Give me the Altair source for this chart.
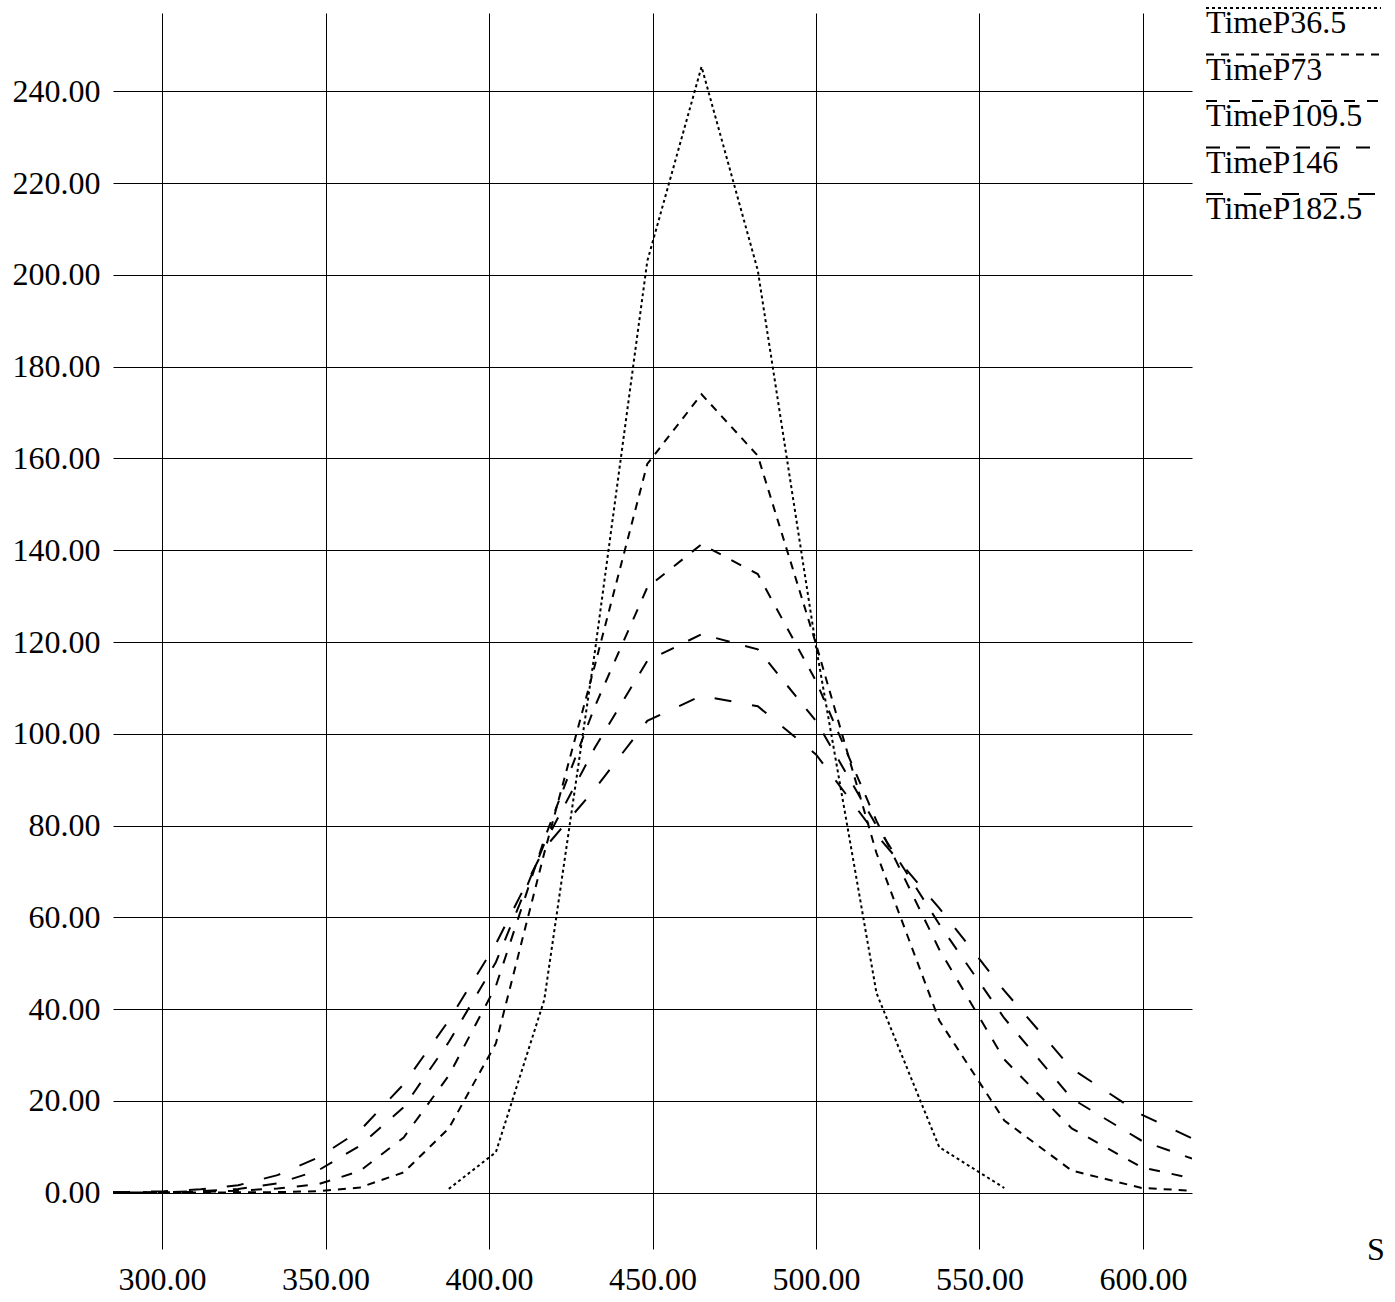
import altair as alt
import pandas as pd

# ---- data ----
series_names = ["TimeP36.5", "TimeP73", "TimeP109.5", "TimeP146", "TimeP182.5"]

s_values = [285.0, 300.6, 311.8, 323.3, 335.3, 347.7, 360.5, 373.9, 387.7, 402.1,
            416.9, 432.4, 448.4, 465.0, 482.2, 500.0, 518.5, 537.7, 557.6, 578.2,
            599.6, 615.0]

time_36_5 = [None, None, None, None, None, None, None, None, 0.8, 8.8,
             42.0, 118.0, 203.0, 245.4, 201.0, 119.0, 43.5, 9.9, 1.0, None,
             None, None]
time_73 = [0.0, 0.0, 0.0, 0.05, 0.1, 0.3, 1.1, 4.4, 14.0, 32.5,
           74.0, 115.0, 158.8, 174.0, 160.6, 119.6, 74.0, 37.5, 15.7, 4.8,
           1.0, 0.4]
time_109_5 = [0.0, 0.05, 0.15, 0.4, 0.9, 1.8, 4.7, 12.0, 25.5, 45.0,
              77.0, 106.0, 131.9, 141.3, 134.8, 111.5, 81.0, 53.0, 29.0, 14.0,
              5.5, 3.1]
time_146 = [0.0, 0.1, 0.3, 0.8, 2.0, 4.8, 10.2, 18.6, 32.8, 50.2,
            76.0, 97.0, 115.9, 121.7, 118.4, 102.8, 80.0, 58.5, 38.0, 20.5,
            11.3, 7.4]
time_182_5 = [0.05, 0.3, 0.7, 1.6, 3.8, 7.6, 13.5, 23.6, 37.5, 54.2,
              75.0, 88.0, 102.8, 108.3, 106.0, 95.5, 78.0, 62.0, 44.0, 27.0,
              17.0, 11.8]

x_ticks = [300, 350, 400, 450, 500, 550, 600]
y_ticks = [0, 20, 40, 60, 80, 100, 120, 140, 160, 180, 200, 220, 240]

dash_patterns = [[3, 3], [8, 7], [11, 12], [14, 16], [17, 21]]

# ---- build table ----
all_series = [time_36_5, time_73, time_109_5, time_146, time_182_5]
rows = []
for name, vals in zip(series_names, all_series):
    for s, v in zip(s_values, vals):
        if v is not None:
            rows.append({"series": name, "S": s, "value": v})
df = pd.DataFrame(rows)

FONT = "Liberation Serif"
FS = 32

dash_scale = alt.Scale(domain=series_names, range=dash_patterns)

main = alt.Chart(df).mark_line(color="black", strokeWidth=2, clip=True).encode(
    x=alt.X("S:Q",
            scale=alt.Scale(domain=[285, 615], nice=False, zero=False),
            axis=alt.Axis(values=x_ticks, format=".2f", grid=True, gridColor="black",
                          gridWidth=1, gridOpacity=1, domain=False, ticks=False,
                          labelPadding=15, title=None)),
    y=alt.Y("value:Q",
            scale=alt.Scale(domain=[-12.3, 257.1], nice=False, zero=False),
            axis=alt.Axis(values=y_ticks, format=".2f", grid=True, gridColor="black",
                          gridWidth=1, gridOpacity=1, domain=False, ticks=False,
                          labelPadding=13, minExtent=113, maxExtent=113, title=None)),
    strokeDash=alt.StrokeDash("series:N", scale=dash_scale, legend=None),
    detail="series:N",
    order=alt.Order("S:Q"),
).properties(width=1079, height=1236)

# ---- custom legend panel (line above label) ----
legend_df = pd.DataFrame({"series": series_names, "x0": [0.0] * 5, "x1": [1.0] * 5})

band_y = alt.Y("series:N", sort=series_names,
               scale=alt.Scale(type="band", paddingInner=0, paddingOuter=0),
               axis=None, bandPosition=0)

legend_rules = alt.Chart(legend_df).mark_rule(color="black", strokeWidth=2, yOffset=-5).encode(
    x=alt.X("x0:Q", scale=alt.Scale(domain=[0, 1], nice=False, zero=False),
            axis=alt.Axis(title="S", domain=False, ticks=False, labels=False, grid=False,
                          titleX=169.5, titleY=1003.5, titleAlign="center",
                          titleBaseline="middle", titleFont=FONT, titleFontSize=FS,
                          titleFontWeight="normal", titleColor="black")),
    x2="x1:Q",
    y=band_y,
    strokeDash=alt.StrokeDash("series:N", scale=dash_scale, legend=None),
)

legend_text = alt.Chart(legend_df).mark_text(
    align="left", baseline="alphabetic", dy=20, font=FONT, fontSize=FS, color="black"
).encode(
    x=alt.X("x0:Q"),
    y=band_y,
    text="series:N",
)

legend_panel = alt.layer(legend_rules, legend_text).properties(width=175, height=232.5)

chart = alt.hconcat(main, legend_panel, spacing=13).properties(
    padding={"left": 0, "top": 7, "right": 0, "bottom": 0},
    background="white",
).configure_view(stroke=None).configure_axis(
    labelFont=FONT, labelFontSize=FS, labelColor="black",
    titleFont=FONT, titleFontSize=FS, titleColor="black",
)

chart.save("out.html", embed_options={"renderer": "svg", "actions": False})
